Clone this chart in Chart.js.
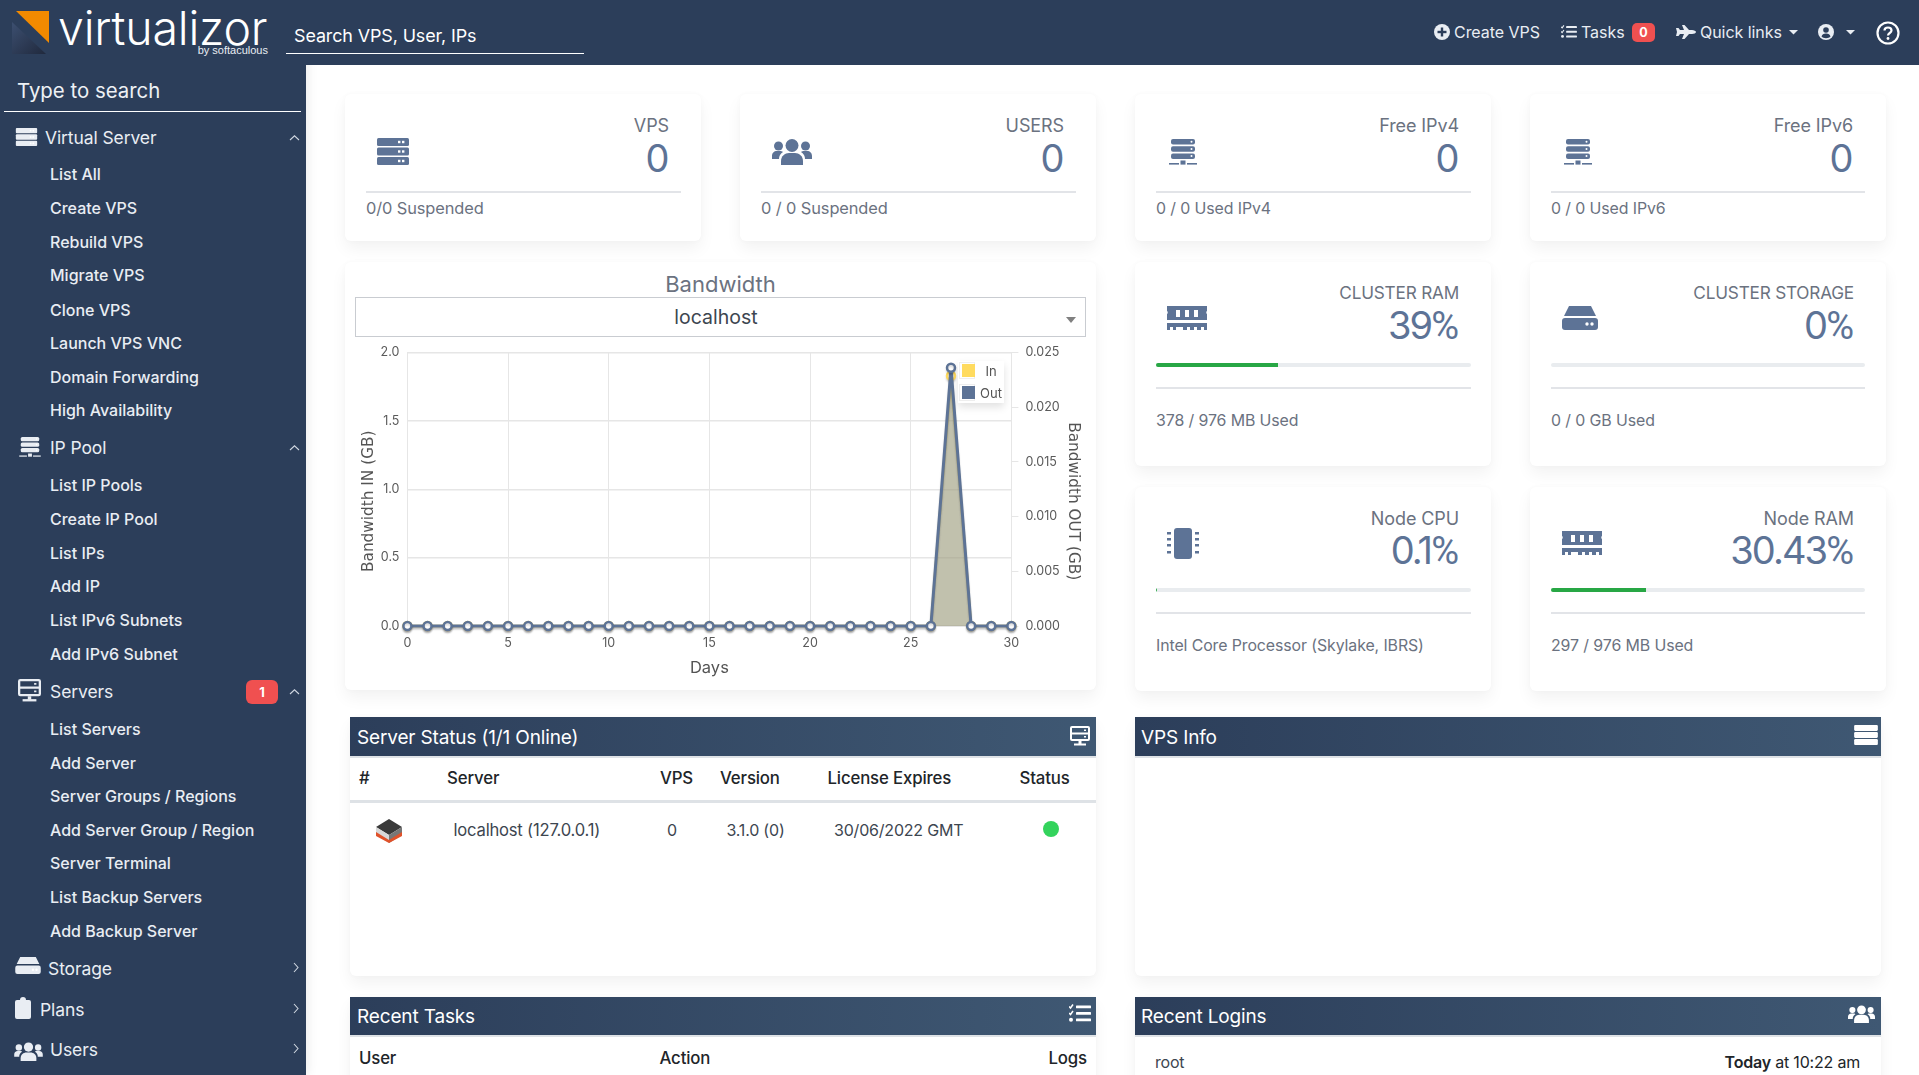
<!DOCTYPE html>
<html><head><meta charset="utf-8"><title>Virtualizor</title>
<script src="https://cdn.jsdelivr.net/npm/chart.js@4/dist/chart.umd.min.js"></script>
<style>
html,body{margin:0;padding:0;background:#fff;overflow:hidden}
body{width:1919px;height:1075px;position:relative;font-family:Inter,'Open Sans',sans-serif;color:#6c757d}
.a{position:absolute}
.t{position:absolute;white-space:nowrap;transform:translateY(-50%)}
.r{transform:translate(-100%,-50%)}
.c{transform:translate(-50%,-50%)}
.card{position:absolute;background:#fff;border-radius:6px;box-shadow:0 8px 16px rgba(0,0,0,.05),0 0 6px rgba(0,0,0,.025)}
.hr{position:absolute;height:1.5px;background:#e2e4e8}
.lab{font-size:18px;color:#6b7280;letter-spacing:-.1px;margin-top:-1px}
.lab2{font-size:17.2px;letter-spacing:-.2px}
.val{font-size:38px;color:#5d7396;letter-spacing:-.4px}
.pct{letter-spacing:-1.9px}
.pct span{font-family:Roboto;letter-spacing:0}
.foot{font-size:15.9px;color:#6b7280;letter-spacing:-.1px;margin-top:-1px}
.sus{font-size:16.4px}
.pg{position:absolute;height:3.5px;background:#e9ecef;border-radius:2px;overflow:hidden}
.pg i{display:block;height:100%;background:#28a745}
.ph{position:absolute;height:39px;background:linear-gradient(90deg,#2c3e5a,#3f5873);box-shadow:0 2px 0 #dee2e6;color:#fff}
.pt{font-size:19px;color:#fff;letter-spacing:-.15px}
.th{font-size:16.8px;font-weight:500;color:#212529;letter-spacing:-.15px}
.td{font-size:16px;color:#3d4650;letter-spacing:-.2px}
.tb{font-size:16px;color:#e9edf3;letter-spacing:-.05px}
#side .t{color:#e9edf3}
.m{font-size:17.5px;letter-spacing:-.1px}
.s{font-size:16px;font-weight:500;letter-spacing:0}
svg{position:absolute;overflow:visible}
#legend{position:absolute;left:958px;top:361px;width:46px;height:42px;background:#fff;box-shadow:0 4px 8px rgba(0,0,0,.12);font-size:13px;color:#545454}
</style></head><body>
<svg width="0" height="0" style="position:absolute"><defs>
<symbol id="srv" viewBox="0 0 32 27"><rect y="0" width="32" height="8" rx="1.5"/><rect y="9.5" width="32" height="8" rx="1.5"/><rect y="19" width="32" height="8" rx="1.5"/><g fill="#fff"><rect x="21" y="2.8" width="2.4" height="2.4"/><rect x="25" y="2.8" width="2.4" height="2.4"/><rect x="21" y="12.3" width="2.4" height="2.4"/><rect x="25" y="12.3" width="2.4" height="2.4"/><rect x="21" y="21.8" width="2.4" height="2.4"/><rect x="25" y="21.8" width="2.4" height="2.4"/></g></symbol>
<symbol id="net" viewBox="0 0 28 26"><rect x="2" y="0" width="24" height="5.5" rx="2"/><rect x="2" y="7.2" width="24" height="5.5" rx="2"/><rect x="2" y="14.4" width="24" height="5.5" rx="2"/><rect x="0" y="24" width="10" height="1.6"/><rect x="18" y="24" width="10" height="1.6"/><rect x="11.5" y="21.5" width="5" height="4.1"/><g fill="#fff"><circle cx="22.5" cy="2.7" r="1"/><circle cx="22.5" cy="9.9" r="1"/><circle cx="22.5" cy="17.1" r="1"/></g></symbol>
<symbol id="users" viewBox="0 0 40 28"><circle cx="20" cy="8.5" r="6.5"/><path d="M9 28v-4c0-5 4-8 8-8h6c4 0 8 3 8 8v4z"/><circle cx="6.5" cy="9" r="4.5"/><circle cx="33.5" cy="9" r="4.5"/><path d="M0 22v-3c0-3 2-5 5-5h3c1 0 2 0 3 1-3 2-4 4-4 7zM40 22v-3c0-3-2-5-5-5h-3c-1 0-2 0-3 1 3 2 4 4 4 7z"/></symbol>
<symbol id="ram" viewBox="0 0 40 24"><path d="M0 0h40v5c-1 .5-1 2.500 0 3v6H0V8c1-.5 1-2.500 0-3z"/><path d="M0 17h40v7h-3v-3h-3v3h-4v-3h-3v3h-4v-3h-3v3h-4v-3H9v3H6v-3H3v3H0z"/><g fill="#fff"><rect x="9" y="4" width="4" height="7"/><rect x="18" y="4" width="4" height="7"/><rect x="27" y="4" width="4" height="7"/></g></symbol>
<symbol id="hdd" viewBox="0 0 36 24"><path d="M7 0h22l5 10H2z"/><path d="M3 12h30a3 3 0 0 1 3 3v6a3 3 0 0 1-3 3H3a3 3 0 0 1-3-3v-6a3 3 0 0 1 3-3z"/><g fill="#fff"><circle cx="25" cy="18" r="1.700"/><circle cx="30" cy="18" r="1.700"/></g></symbol>
<symbol id="chip" viewBox="0 0 32 31"><rect x="7" y="0" width="18" height="31" rx="3"/><g><rect x="0" y="4" width="4" height="2.500"/><rect x="0" y="10" width="4" height="2.500"/><rect x="0" y="16" width="4" height="2.500"/><rect x="0" y="23" width="4" height="2.500"/><rect x="28" y="4" width="4" height="2.500"/><rect x="28" y="10" width="4" height="2.500"/><rect x="28" y="16" width="4" height="2.500"/><rect x="28" y="23" width="4" height="2.500"/></g></symbol>
<symbol id="desk" viewBox="0 0 20 20"><path fill-rule="evenodd" d="M2 0h16a2 2 0 0 1 2 2v11a2 2 0 0 1-2 2H2a2 2 0 0 1-2-2V2a2 2 0 0 1 2-2zM2 2v4.500h16V2zM2 8.500V13h16V8.500z"/><rect x="8.500" y="15" width="3" height="3"/><rect x="4" y="17.500" width="12" height="2"/><rect x="14" y="3.500" width="2" height="1.500"/><rect x="14" y="10" width="2" height="1.500"/></symbol>
<symbol id="tasks" viewBox="0 0 22 18"><rect x="7" y="1.500" width="15" height="2.800" rx=".6"/><rect x="7" y="8" width="15" height="2.800" rx=".6"/><rect x="7" y="14.500" width="15" height="2.800" rx=".6"/><path d="M0 2.500l1.500 1.500L4 .5M0 9l1.500 1.500L4 7" fill="none" stroke="currentColor" stroke-width="1.500"/><circle cx="2" cy="15.800" r="2"/></symbol>
<symbol id="plus" viewBox="0 0 16 16"><circle cx="8" cy="8" r="8"/><rect x="3.500" y="6.800" width="9" height="2.400" fill="#2c3e5a"/><rect x="6.800" y="3.500" width="2.400" height="9" fill="#2c3e5a"/></symbol>
<symbol id="plane" viewBox="0 0 20 14"><path d="M20 7c0-1-2-2-4-2h-3L8.500 0H6l2 5H4L2.500 3H0l1 4-1 4h2.500L4 9h4l-2 5h2.500L13 9h3c2 0 4-1 4-2z"/></symbol>
<symbol id="user" viewBox="0 0 16 16"><circle cx="8" cy="8" r="8"/><circle cx="8" cy="6" r="2.800" fill="#2c3e5a"/><path d="M3.500 12.500c.5-2 2-3 4.500-3s4 1 4.500 3c-1 1-2.500 1.700-4.500 1.700s-3.500-.7-4.500-1.700z" fill="#2c3e5a"/></symbol>
<symbol id="clip" viewBox="0 0 16 22"><path d="M2 3h3a3 3 0 0 1 6 0h3a2 2 0 0 1 2 2v15a2 2 0 0 1-2 2H2a2 2 0 0 1-2-2V5a2 2 0 0 1 2-2z"/></symbol>
<linearGradient id="lg" x1="0" y1="0" x2="1" y2="1"><stop offset="0" stop-color="#3c4f70"/><stop offset="1" stop-color="#20293d"/></linearGradient>
</defs></svg>

<!-- sidebar -->
<div id="side" class="a" style="left:0;top:0;width:306px;height:1075px;background:#2c3e5a;box-shadow:2px 0 10px rgba(0,0,0,.08)"></div>

<!-- top bar -->
<div class="a" style="left:0;top:0;width:1919px;height:65px;background:#2c3e5a"></div>
<svg style="left:0;top:0" width="60" height="60"><polygon points="12,22 46,54 12,54" fill="url(#lg)"/><polygon points="16,11 49,11 49,43" fill="#f28a00"/></svg>
<div class="t" style="left:58px;top:28px;font-size:46.500px;line-height:34px;font-weight:300;color:#fff;letter-spacing:-.2px">virtualizor</div>
<div class="t r" style="left:268px;top:50px;font:11px/10px 'Liberation Sans';color:#e9edf3">by softaculous</div>
<div class="t" style="left:294px;top:35px;font-size:17.9px;color:#fff;letter-spacing:-.1px">Search VPS, User, IPs</div>
<div class="a" style="left:286px;top:52.500px;width:298px;height:1px;background:#fff"></div>
<svg style="left:1434px;top:24px;color:#e9edf3;fill:#e9edf3" width="16" height="16"><use href="#plus"/></svg>
<div class="t tb" style="left:1454px;top:32px">Create VPS</div>
<svg style="left:1561px;top:25px;color:#e9edf3;fill:#e9edf3" width="16" height="13"><use href="#tasks"/></svg>
<div class="t tb" style="left:1581px;top:32px">Tasks</div>
<div class="a" style="left:1632px;top:23px;width:23px;height:19px;background:#f05050;border-radius:5px;color:#fff;font-size:12.500px;font-weight:700;text-align:center;line-height:19px">0</div>
<svg style="left:1676px;top:25px;fill:#e9edf3" width="20" height="14"><use href="#plane"/></svg>
<div class="t tb" style="left:1700px;top:32px">Quick links</div>
<svg style="left:1789px;top:30px;fill:#e9edf3" width="9" height="5"><polygon points="0,0 9,0 4.500,4.500"/></svg>
<svg style="left:1818px;top:24px;fill:#e9edf3" width="16" height="16"><use href="#user"/></svg>
<svg style="left:1846px;top:30px;fill:#e9edf3" width="9" height="5"><polygon points="0,0 9,0 4.500,4.500"/></svg>
<svg style="left:1876px;top:21px" width="24" height="24"><circle cx="12" cy="12" r="10.500" fill="none" stroke="#fff" stroke-width="2.200"/><path d="M8.500 9.500c0-2 1.500-3 3.500-3s3.500 1.200 3.500 3c0 2.500-3.500 2.500-3.500 5" fill="none" stroke="#fff" stroke-width="2.200"/><circle cx="12" cy="17.500" r="1.400" fill="#fff"/></svg>

<!-- stat cards -->
<div class="card" style="left:345px;top:94px;width:356px;height:147px"></div>
<div class="card" style="left:740px;top:94px;width:356px;height:147px"></div>
<div class="card" style="left:1135px;top:94px;width:356px;height:147px"></div>
<div class="card" style="left:1530px;top:94px;width:356px;height:147px"></div>
<svg style="left:377px;top:138px;fill:#5d7396" width="32" height="27"><use href="#srv"/></svg>
<svg style="left:772px;top:137px;fill:#5d7396" width="40" height="28"><use href="#users"/></svg>
<svg style="left:1169px;top:139px;fill:#5d7396" width="28" height="26"><use href="#net"/></svg>
<svg style="left:1564px;top:139px;fill:#5d7396" width="28" height="26"><use href="#net"/></svg>
<div class="t r lab" style="left:669px;top:126px">VPS</div><div class="t r val" style="left:669px;top:158px">0</div>
<div class="t r lab" style="left:1064px;top:126px">USERS</div><div class="t r val" style="left:1064px;top:158px">0</div>
<div class="t r lab" style="left:1459px;top:126px">Free IPv4</div><div class="t r val" style="left:1459px;top:158px">0</div>
<div class="t r lab" style="left:1853px;top:126px">Free IPv6</div><div class="t r val" style="left:1853px;top:158px">0</div>
<div class="hr" style="left:366px;top:191px;width:315px"></div>
<div class="hr" style="left:761px;top:191px;width:315px"></div>
<div class="hr" style="left:1156px;top:191px;width:315px"></div>
<div class="hr" style="left:1551px;top:191px;width:314px"></div>
<div class="t foot sus" style="left:366px;top:209px">0/0 Suspended</div>
<div class="t foot sus" style="left:761px;top:209px">0 / 0 Suspended</div>
<div class="t foot" style="left:1156px;top:209px">0 / 0 Used IPv4</div>
<div class="t foot" style="left:1551px;top:209px">0 / 0 Used IPv6</div>

<!-- chart card -->
<div class="card" style="left:345px;top:262px;width:751px;height:428px"></div>
<div class="t c" style="left:720.5px;top:283.500px;font-size:22px;color:#6b7280">Bandwidth</div>
<div class="a" style="left:355px;top:297px;width:729px;height:38px;border:1.5px solid #c9ccd1;background:#fff"></div>
<div class="t c" style="left:716px;top:316.500px;font-size:19.500px;color:#3d4650">localhost</div>
<svg style="left:1066px;top:317px;fill:#808080" width="10" height="6"><polygon points="0,0 10,0 5,6"/></svg>
<canvas id="bw" class="a" width="736" height="349" style="left:352px;top:337px;width:736px;height:349px"></canvas>
<div id="legend"></div>

<!-- resource cards -->
<div class="card" style="left:1135px;top:262px;width:356px;height:204px"></div>
<div class="card" style="left:1530px;top:262px;width:356px;height:204px"></div>
<div class="card" style="left:1135px;top:487px;width:356px;height:204px"></div>
<div class="card" style="left:1530px;top:487px;width:356px;height:204px"></div>
<svg style="left:1167px;top:306px;fill:#5d7396" width="40" height="24"><use href="#ram"/></svg>
<svg style="left:1562px;top:306px;fill:#5d7396" width="36" height="24"><use href="#hdd"/></svg>
<svg style="left:1167px;top:528px;fill:#5d7396" width="32" height="31"><use href="#chip"/></svg>
<svg style="left:1562px;top:531px;fill:#5d7396" width="40" height="24"><use href="#ram"/></svg>
<div class="t r lab lab2" style="left:1459px;top:293px">CLUSTER RAM</div><div class="t r val pct" style="left:1459px;top:325px">39<span>%</span></div>
<div class="t r lab lab2" style="left:1854px;top:293px">CLUSTER STORAGE</div><div class="t r val pct" style="left:1854px;top:325px">0<span>%</span></div>
<div class="t r lab" style="left:1459px;top:519px">Node CPU</div><div class="t r val pct" style="left:1459px;top:550px">0.1<span>%</span></div>
<div class="t r lab" style="left:1854px;top:519px">Node RAM</div><div class="t r val pct" style="left:1854px;top:550px">30.43<span>%</span></div>
<div class="pg" style="left:1156px;top:363px;width:315px"><i style="width:38.7%"></i></div>
<div class="pg" style="left:1551px;top:363px;width:314px"></div>
<div class="pg" style="left:1156px;top:588px;width:315px"><i style="width:.4%"></i></div>
<div class="pg" style="left:1551px;top:588px;width:314px"><i style="width:30.2%"></i></div>
<div class="hr" style="left:1156px;top:387px;width:315px"></div>
<div class="hr" style="left:1551px;top:387px;width:314px"></div>
<div class="hr" style="left:1156px;top:612px;width:315px"></div>
<div class="hr" style="left:1551px;top:612px;width:314px"></div>
<div class="t foot" style="left:1156px;top:420.500px">378 / 976 MB Used</div>
<div class="t foot" style="left:1551px;top:420.500px">0 / 0 GB Used</div>
<div class="t foot" style="left:1156px;top:645.500px">Intel Core Processor (Skylake, IBRS)</div>
<div class="t foot" style="left:1551px;top:645.500px">297 / 976 MB Used</div>

<!-- panels -->
<div class="card" style="left:350px;top:717px;width:746px;height:259px"></div>
<div class="ph" style="left:350px;top:717px;width:746px"></div>
<div class="t pt" style="left:357px;top:737px">Server Status (1/1 Online)</div>
<svg style="left:1070px;top:726px;fill:#fff" width="20" height="20"><use href="#desk"/></svg>
<div class="t th" style="left:359px;top:778px">#</div>
<div class="t th" style="left:447px;top:778px">Server</div>
<div class="t th" style="left:660px;top:778px">VPS</div>
<div class="t th" style="left:720px;top:778px">Version</div>
<div class="t th" style="left:827.5px;top:778px">License Expires</div>
<div class="t th" style="left:1019.5px;top:778px">Status</div>
<div class="a" style="left:350px;top:800px;width:746px;height:3px;background:#dee2e6"></div>
<svg style="left:376px;top:819px" width="26" height="24"><polygon points="13,0 26,8 13,16 0,8" fill="#3a3a3a"/><polygon points="0,8 13,16 13,24 0,16" fill="#d8d8d8"/><polygon points="26,8 13,16 13,24 26,16" fill="#777"/><polygon points="0,13 13,21 26,13 26,17 13,24 0,17" fill="#e0522a"/></svg>
<div class="t td" style="left:453.5px;top:830px;font-size:16.600px">localhost (127.0.0.1)</div>
<div class="t td" style="left:667px;top:830px">0</div>
<div class="t td" style="left:726.5px;top:830px">3.1.0 (0)</div>
<div class="t td" style="left:834px;top:830px">30/06/2022 GMT</div>
<div class="a" style="left:1043px;top:821px;width:16px;height:16px;border-radius:50%;background:#33d35c"></div>

<div class="card" style="left:1135px;top:717px;width:746px;height:259px"></div>
<div class="ph" style="left:1135px;top:717px;width:746px"></div>
<div class="t pt" style="left:1141px;top:737px">VPS Info</div>
<svg style="left:1854px;top:725px;fill:#fff" width="24" height="20"><use href="#srv"/></svg>

<div class="card" style="left:350px;top:997px;width:746px;height:100px"></div>
<div class="ph" style="left:350px;top:997px;width:746px;height:38px"></div>
<div class="t pt" style="left:357px;top:1016px">Recent Tasks</div>
<svg style="left:1069px;top:1004px;fill:#fff;color:#fff" width="22" height="18"><use href="#tasks"/></svg>
<div class="t th" style="left:359px;top:1058px">User</div>
<div class="t th" style="left:659.5px;top:1058px">Action</div>
<div class="t r th" style="left:1087px;top:1058px">Logs</div>

<div class="card" style="left:1135px;top:997px;width:746px;height:100px"></div>
<div class="ph" style="left:1135px;top:997px;width:746px;height:38px"></div>
<div class="t pt" style="left:1141px;top:1016px">Recent Logins</div>
<svg style="left:1848px;top:1004px;fill:#fff" width="27" height="19"><use href="#users"/></svg>
<div class="t td" style="left:1155px;top:1062px">root</div>
<div class="t r td" style="left:1860px;top:1062px;color:#212529"><b style="font-weight:600">Today</b> at 10:22 am</div>

<script>
// Chart data
const days = [0,1,2,3,4,5,6,7,8,9,10,11,12,13,14,15,16,17,18,19,20,21,22,23,24,25,26,27,28,29,30];
const bandwidthIn  = [0,0,0,0,0,0,0,0,0,0,0,0,0,0,0,0,0,0,0,0,0,0,0,0,0,0,0,1.83,0,0,0];
const bandwidthOut = [0,0,0,0,0,0,0,0,0,0,0,0,0,0,0,0,0,0,0,0,0,0,0,0,0,0,0,0.0236,0,0,0];
const inTicks  = [0,0.5,1,1.5,2];
const outTicks = [0,0.005,0.01,0.015,0.02,0.025];
const dayTicks = [0,5,10,15,20,25,30];

// Sidebar content
const sideMain = ['Virtual Server','IP Pool','Servers','Storage','Plans','Users'];
const sideSub = ['List All','Create VPS','Rebuild VPS','Migrate VPS','Clone VPS','Launch VPS VNC','Domain Forwarding','High Availability','List IP Pools','Create IP Pool','List IPs','Add IP','List IPv6 Subnets','Add IPv6 Subnet','List Servers','Add Server','Server Groups / Regions','Add Server Group / Region','Server Terminal','List Backup Servers','Add Backup Server'];

const side = document.getElementById('side');
function put(html){ side.insertAdjacentHTML('beforeend', html); }
const mainY = [137,447,690.5,967.5,1008.5,1049], mainX=[45,50,50,48,40,50];
const mainIcon = ['srv','net','desk','hdd','clip','users'];
const iconBox = [[15,128,23,18],[19,437,22,20],[18,679,23,23],[15,957,26,17],[15,997,16,22],[14,1041,29,20]];
sideMain.forEach((n,i)=>{
  put(`<div class="t m" style="left:${mainX[i]}px;top:${mainY[i]}px">${n}</div>`);
  const b=iconBox[i];
  put(`<svg style="left:${b[0]}px;top:${b[1]}px;fill:#e9edf3" width="${b[2]}" height="${b[3]}"><use href="#${mainIcon[i]}"/></svg>`);
  const p = i<3 ? 'M0 5L4.500 .8L9 5' : 'M1 0L5 4.500L1 9';
  put(`<svg style="left:${i<3?290:293}px;top:${mainY[i]-(i<3?2:5)}px" width="10" height="10"><path d="${p}" fill="none" stroke="#cfd6e0" stroke-width="1.100"/></svg>`);
});
const subY = [174,208,242,275,310,343,377,410,485,519,553,586,620,654,729,763,796,830,863,897,931];
sideSub.forEach((n,i)=>put(`<div class="t s" style="left:50px;top:${subY[i]}px">${n}</div>`));
put('<div class="t" style="left:17px;top:90px;font-size:20.400px;color:#eef1f5">Type to search</div>');
put('<div class="a" style="left:4px;top:111px;width:297px;height:1px;background:#fff"></div>');
put('<div class="a" style="left:246px;top:680px;width:32px;height:24px;background:#f05050;border-radius:6px;color:#fff;font-size:13px;font-weight:700;text-align:center;line-height:24px">1</div>');

// Chart
const IN_C='#ffdb5f', OUT_C='#5d7396', TICK='#5a5a5a', GRID='#e6e6e6';
const flotShadow={id:'flotShadow',
  beforeDatasetDraw(c){c.ctx.save();c.ctx.shadowColor='rgba(0,0,0,.14)';c.ctx.shadowOffsetY=2;c.ctx.shadowBlur=2;},
  afterDatasetDraw(c){c.ctx.restore();}};
const toXY=a=>a.map((v,i)=>({x:days[i],y:v}));
const tickFont={family:'Inter',size:12.5};
// the reference's rotated axis titles sit a little below the plot's middle
const nudgeTitle=s=>{ if(s._nudged) return; s._nudged=true; const f=s.drawTitle;
  s.drawTitle=function(){const c=this.ctx;c.save();c.translate(0,12);f.call(this);c.restore();}; };
const chart=new Chart(document.getElementById('bw'),{
  type:'line',
  plugins:[flotShadow],
  data:{datasets:[
    {label:'In',order:2,clip:false,yAxisID:'yIn',data:toXY(bandwidthIn),borderColor:IN_C,backgroundColor:'rgba(255,219,95,.42)',fill:'origin',tension:0,borderWidth:2.5,pointRadius:4,pointBorderWidth:2.5,pointBackgroundColor:'#fff',pointBorderColor:IN_C},
    {label:'Out',order:1,clip:false,yAxisID:'yOut',data:toXY(bandwidthOut),borderColor:OUT_C,backgroundColor:'rgba(93,115,150,.38)',fill:'origin',tension:0,borderWidth:3,pointRadius:4,pointBorderWidth:2.5,pointBackgroundColor:'#fff',pointBorderColor:OUT_C}
  ]},
  options:{
    responsive:false,animation:false,devicePixelRatio:1,
    layout:{padding:{top:7.7,left:0,right:0,bottom:0}},
    plugins:{legend:{display:false},tooltip:{enabled:false}},
    scales:{
      x:{type:'linear',min:0,max:30,
        afterBuildTicks:s=>{s.ticks=dayTicks.map(v=>({value:v}));},
        afterFit:s=>{s.height=60;},
        grid:{color:GRID,lineWidth:1,drawTicks:false},border:{color:GRID},
        ticks:{color:TICK,font:tickFont,padding:10,maxRotation:0},
        title:{display:true,text:'Days',color:'#545454',font:{family:'Inter',size:16.5},padding:{top:0,bottom:8}}},
      yIn:{position:'left',min:0,max:2,
        afterBuildTicks:s=>{s.ticks=inTicks.map(v=>({value:v}));},
        afterFit:s=>{s.width=55.4;},afterUpdate:nudgeTitle,
        grid:{color:GRID,lineWidth:1.5,drawTicks:false},border:{color:GRID},
        ticks:{color:TICK,font:tickFont,padding:8,callback:v=>v.toFixed(1)},
        title:{display:true,text:'Bandwidth IN (GB)',color:'#545454',font:{family:'DejaVu Sans',size:15.3},padding:{top:7.5,bottom:0}}},
      yOut:{position:'right',min:0,max:0.025,
        afterBuildTicks:s=>{s.ticks=outTicks.map(v=>({value:v}));},
        afterFit:s=>{s.width=76.6;},afterUpdate:nudgeTitle,
        grid:{drawOnChartArea:false,color:GRID,tickLength:7},border:{color:GRID},
        ticks:{color:TICK,font:tickFont,padding:7,callback:v=>v.toFixed(3)},
        title:{display:true,text:'Bandwidth OUT (GB)',color:'#545454',font:{family:'DejaVu Sans',size:15.3},padding:{top:6,bottom:0}}}
    }
  }
});

// HTML legend built from the chart's datasets
const lg=document.getElementById('legend');
chart.data.datasets.forEach((d,i)=>{
  const top=(i?25:3);
  lg.insertAdjacentHTML('beforeend',
    `<div class="a" style="left:1px;top:${top-2}px;width:16px;height:17px;border:1px solid #eee;box-sizing:border-box"></div>`+
    `<div class="a" style="left:4px;top:${top}px;width:13px;height:13px;background:${d.borderColor}"></div>`+
    `<div class="t c" style="left:33px;top:${top+6.500}px">${d.label}</div>`);
});
</script>
</body></html>
